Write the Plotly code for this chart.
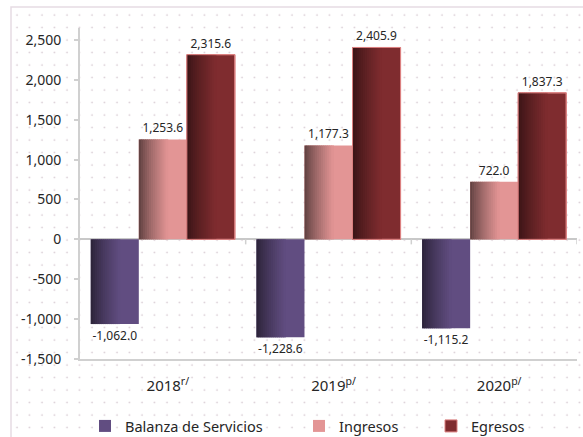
import base64
import plotly.graph_objects as go

# ---------------- data ----------------
years = ["2018", "2019", "2020"]
year_labels = ["2018<sup>r/</sup>", "2019<sup>p/</sup>", "2020<sup>p/</sup>"]
balanza = [-1062.0, -1228.6, -1115.2]
ingresos = [1253.6, 1177.3, 722.0]
egresos = [2315.6, 2405.9, 1837.3]
series_names = ["Balanza de Servicios", "Ingresos", "Egresos"]
y_ticks = [-1500, -1000, -500, 0, 500, 1000, 1500, 2000, 2500]

# ---------------- styling ----------------
FONT = "Noto Sans"
TXT = "#262626"
AXC = "#d0d0d0"
W, H = 583, 437
ML, MR, MT, MB = 80, 6, 28, 78
PW, PH = W - ML - MR, H - MT - MB

styles = [
    dict(dark="#2a2236", main="#614d81", line=None),
    dict(dark="#5a3d3d", main="#e39595", line=None),
    dict(dark="#371315", main="#7f2c2f", line="#dc8080"),
]
legend_keys = ["legend", "legend2", "legend3"]
bar_w = 0.29
offsets = [-0.435, -0.145, 0.145]


def hex2rgb(h):
    h = h.lstrip("#")
    return [int(h[i:i + 2], 16) for i in (0, 2, 4)]


def mix(c1, c2, t):
    a, b = hex2rgb(c1), hex2rgb(c2)
    return "rgb(%d,%d,%d)" % tuple(round(a[i] + (b[i] - a[i]) * t) for i in range(3))


fig = go.Figure()
N = 14
grad_frac = 0.6
for vals, name, st, off, lg in zip([balanza, ingresos, egresos], series_names,
                                   styles, offsets, legend_keys):
    line = dict(color=st["line"], width=1) if st["line"] else dict(width=0)
    # base bar (legend entry)
    fig.add_trace(go.Bar(
        x=years, y=vals, name=name, legend=lg,
        marker=dict(color=st["main"], line=line),
        width=bar_w, offset=off, hoverinfo="skip",
    ))
    # gradient strips on the left side of each bar
    sw = bar_w * grad_frac / N
    for k in range(N):
        t = ((k + 0.5) / N) ** 0.8
        fig.add_trace(go.Bar(
            x=years, y=vals, showlegend=False,
            marker=dict(color=mix(st["dark"], st["main"], t), line=dict(width=0)),
            width=sw * 1.3, offset=off + k * sw, hoverinfo="skip",
        ))
    # outline + value labels
    fig.add_trace(go.Bar(
        x=years, y=vals, showlegend=False,
        marker=dict(color="rgba(0,0,0,0)", line=line),
        width=bar_w, offset=off, hoverinfo="skip",
        text=[f"{v:,.1f}" for v in vals], textposition="outside",
        textfont=dict(size=12, color=TXT, family=FONT), cliponaxis=False,
    ))

# dotted background pattern
fx, fy = 11, 7
fw, fh = W - fx, H - fy
svg = (f'<svg xmlns="http://www.w3.org/2000/svg" width="{fw}" height="{fh}" '
       f'viewBox="0 0 {fw} {fh}"><defs><pattern id="d" width="12.5" height="12.5" '
       f'patternUnits="userSpaceOnUse"><circle cx="6" cy="8" r="0.9" fill="#d6c8d1"/>'
       f'</pattern></defs><rect width="{fw}" height="{fh}" fill="url(#d)"/></svg>')
src = "data:image/svg+xml;base64," + base64.b64encode(svg.encode()).decode()

px = lambda x: (x - ML) / PW
py = lambda y: (MT + PH - y) / PH

shapes = [
    dict(type="rect", xref="paper", yref="paper", x0=px(fx), y0=py(H + 20),
         x1=px(W + 20), y1=py(fy), line=dict(color="#e6dbe3", width=1.5),
         layer="below"),
]
for b in [0.5, 1.5, 2.5]:
    shapes.append(dict(type="line", xref="x", yref="y", ysizemode="pixel", yanchor=0,
                       x0=b, x1=b, y0=0, y1=-5, line=dict(color=AXC, width=1.5)))

legend_common = dict(orientation="h", yanchor="middle", y=py(426), xanchor="left",
                     font=dict(size=14.5, color=TXT, family=FONT),
                     bgcolor="rgba(0,0,0,0)", itemclick=False, itemdoubleclick=False)

fig.update_layout(
    width=W, height=H,
    margin=dict(l=ML, r=MR, t=MT, b=MB, pad=0, autoexpand=False),
    paper_bgcolor="white", plot_bgcolor="rgba(0,0,0,0)",
    barmode="overlay",
    font=dict(family=FONT, color=TXT),
    images=[dict(source=src, xref="paper", yref="paper", x=px(fx), y=py(fy),
                 sizex=fw / PW, sizey=fh / PH, xanchor="left", yanchor="top",
                 sizing="stretch", layer="below")],
    shapes=shapes,
    xaxis=dict(type="category", range=[-0.5, 2.5], tickvals=years, ticktext=year_labels,
               showline=True, linecolor=AXC, linewidth=2, ticks="", showgrid=False,
               zeroline=False, tickfont=dict(size=15, color=TXT), ticklabelstandoff=12,
               ticklabelshift=5, automargin=False, fixedrange=True),
    yaxis=dict(range=[-1500, 2650], tickvals=y_ticks,
               ticktext=[f"{v:,}" for v in y_ticks],
               ticks="outside", ticklen=4, tickcolor=AXC, tickwidth=1.5,
               showline=True, linecolor=AXC, linewidth=2, showgrid=False,
               zeroline=True, zerolinecolor="#c8c8c8", zerolinewidth=2,
               tickfont=dict(size=14, color=TXT), ticklabelstandoff=10,
               automargin=False, fixedrange=True),
    legend=dict(x=px(85), **legend_common),
    legend2=dict(x=px(299), **legend_common),
    legend3=dict(x=px(431), **legend_common),
)

fig.write_html("out.html", config={"displayModeBar": False},
               post_script="document.body.style.margin='0';"
                           "document.body.style.overflow='hidden';")
